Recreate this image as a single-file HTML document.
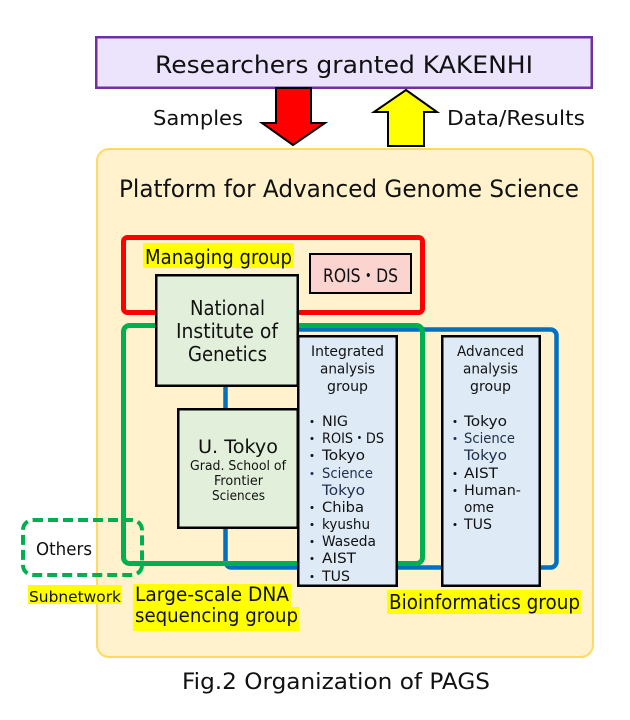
<!DOCTYPE html>
<html><head><meta charset="utf-8"><style>
html,body{margin:0;padding:0;background:#fff;}
svg{display:block;}
text{font-family:"DejaVu Sans","Liberation Sans",sans-serif;fill:#111;}
</style></head><body>
<svg width="630" height="720" viewBox="0 0 630 720" xmlns="http://www.w3.org/2000/svg">
<!-- top box -->
<rect x="96.25" y="37.25" width="495.5" height="50.5" fill="#ece3fc" stroke="#7030a0" stroke-width="2.5"/>
<text x="155" y="73" font-size="24" textLength="378" lengthAdjust="spacingAndGlyphs">Researchers granted KAKENHI</text>
<!-- platform -->
<rect x="97" y="149" width="496" height="508" rx="12" fill="#fff2cc" stroke="#ffd966" stroke-width="2"/>
<!-- arrows -->
<polygon points="276,88 311,88 311,123 325,123 293,145 262,123 276,123" fill="#ff0000" stroke="#000" stroke-width="2" stroke-linejoin="miter"/>
<polygon points="406,90 437,112 424,112 424,146 388,146 388,112 374,112" fill="#ffff00" stroke="#000" stroke-width="2"/>
<text x="153" y="125" font-size="20" textLength="90" lengthAdjust="spacingAndGlyphs">Samples</text>
<text x="447" y="125" font-size="20" textLength="138" lengthAdjust="spacingAndGlyphs">Data/Results</text>
<text x="119" y="197" font-size="24" textLength="460" lengthAdjust="spacingAndGlyphs">Platform for Advanced Genome Science</text>
<!-- group frames -->
<rect x="123.5" y="237.5" width="299" height="75" rx="4" fill="none" stroke="#ff0000" stroke-width="5"/>
<rect x="225.5" y="329.5" width="331" height="238" rx="6" fill="none" stroke="#0070c0" stroke-width="4.5"/>
<rect x="123.5" y="325.5" width="299" height="238" rx="6" fill="none" stroke="#00b050" stroke-width="5"/>
<!-- managing label -->
<rect x="143" y="243" width="151" height="25" fill="#ffff00"/>
<text x="145" y="264" font-size="20" textLength="147" lengthAdjust="spacingAndGlyphs">Managing group</text>
<!-- ROIS DS -->
<rect x="310" y="254" width="101" height="39" fill="#fbd3cf" stroke="#000" stroke-width="2"/>
<text x="323" y="282" font-size="19" textLength="75" lengthAdjust="spacingAndGlyphs">ROIS・DS</text>
<!-- NIG -->
<rect x="156.25" y="275.25" width="141.5" height="110.5" fill="#e2efda" stroke="#000" stroke-width="2.5"/>
<text x="190" y="315" font-size="20.5" textLength="75" lengthAdjust="spacingAndGlyphs">National</text>
<text x="176" y="338" font-size="20.5" textLength="102" lengthAdjust="spacingAndGlyphs">Institute of</text>
<text x="188" y="361" font-size="20.5" textLength="79" lengthAdjust="spacingAndGlyphs">Genetics</text>
<!-- U Tokyo -->
<rect x="178.25" y="409.25" width="119.5" height="118.5" fill="#e2efda" stroke="#000" stroke-width="2.5"/>
<text x="198" y="453" font-size="18.5" textLength="80" lengthAdjust="spacingAndGlyphs">U. Tokyo</text>
<text x="190" y="470" font-size="13" textLength="96" lengthAdjust="spacingAndGlyphs">Grad. School of</text>
<text x="214" y="485" font-size="13" textLength="49" lengthAdjust="spacingAndGlyphs">Frontier</text>
<text x="212" y="500" font-size="13" textLength="53" lengthAdjust="spacingAndGlyphs">Sciences</text>
<!-- Integrated -->
<rect x="298.25" y="336.25" width="98.5" height="249.5" fill="#deebf7" stroke="#000" stroke-width="2.5"/>
<g font-size="14.5">
<text x="311" y="356" textLength="73" lengthAdjust="spacingAndGlyphs">Integrated</text>
<text x="320" y="373.5" textLength="55" lengthAdjust="spacingAndGlyphs">analysis</text>
<text x="327" y="391" textLength="41" lengthAdjust="spacingAndGlyphs">group</text>
</g>
<g font-size="14.5">
<circle cx="312" cy="421.5" r="1.5" fill="#111"/><text x="322" y="426" textLength="26" lengthAdjust="spacingAndGlyphs">NIG</text>
<circle cx="312" cy="438.5" r="1.5" fill="#111"/><text x="322" y="443" textLength="62" lengthAdjust="spacingAndGlyphs">ROIS・DS</text>
<circle cx="312" cy="455.5" r="1.5" fill="#111"/><text x="322" y="460" textLength="43" lengthAdjust="spacingAndGlyphs">Tokyo</text>
<circle cx="312" cy="473.5" r="1.5" fill="#203050"/><text x="322" y="478" textLength="51" lengthAdjust="spacingAndGlyphs" style="fill:#203050">Science</text>
<text x="322" y="495" textLength="43" lengthAdjust="spacingAndGlyphs" style="fill:#203050">Tokyo</text>
<circle cx="312" cy="507.5" r="1.5" fill="#111"/><text x="322" y="512" textLength="42" lengthAdjust="spacingAndGlyphs">Chiba</text>
<circle cx="312" cy="524.5" r="1.5" fill="#111"/><text x="322" y="529" textLength="48" lengthAdjust="spacingAndGlyphs">kyushu</text>
<circle cx="312" cy="541.5" r="1.5" fill="#111"/><text x="322" y="546" textLength="54" lengthAdjust="spacingAndGlyphs">Waseda</text>
<circle cx="312" cy="558.5" r="1.5" fill="#111"/><text x="322" y="563" textLength="34" lengthAdjust="spacingAndGlyphs">AIST</text>
<circle cx="312" cy="576.5" r="1.5" fill="#111"/><text x="322" y="581" textLength="28" lengthAdjust="spacingAndGlyphs">TUS</text>
</g>
<!-- Advanced -->
<rect x="442.25" y="336.25" width="97.5" height="249.5" fill="#deebf7" stroke="#000" stroke-width="2.5"/>
<g font-size="14.5">
<text x="457" y="356" textLength="67" lengthAdjust="spacingAndGlyphs">Advanced</text>
<text x="463" y="373.5" textLength="55" lengthAdjust="spacingAndGlyphs">analysis</text>
<text x="470" y="391" textLength="41" lengthAdjust="spacingAndGlyphs">group</text>
<circle cx="455" cy="421.5" r="1.5" fill="#111"/><text x="464" y="426" textLength="43" lengthAdjust="spacingAndGlyphs">Tokyo</text>
<circle cx="455" cy="438.5" r="1.5" fill="#203050"/><text x="464" y="443" textLength="51" lengthAdjust="spacingAndGlyphs" style="fill:#203050">Science</text>
<text x="464" y="460" textLength="43" lengthAdjust="spacingAndGlyphs" style="fill:#203050">Tokyo</text>
<circle cx="455" cy="473.5" r="1.5" fill="#111"/><text x="464" y="478" textLength="34" lengthAdjust="spacingAndGlyphs">AIST</text>
<circle cx="455" cy="490.5" r="1.5" fill="#111"/><text x="464" y="495" textLength="57" lengthAdjust="spacingAndGlyphs">Human-</text>
<text x="464" y="512" textLength="30" lengthAdjust="spacingAndGlyphs">ome</text>
<circle cx="455" cy="524.5" r="1.5" fill="#111"/><text x="464" y="529" textLength="28" lengthAdjust="spacingAndGlyphs">TUS</text>
</g>
<!-- Others -->
<rect x="23" y="520" width="119" height="55" rx="10" fill="none" stroke="#00b050" stroke-width="4" stroke-dasharray="10,5"/>
<text x="36" y="555" font-size="17.5" textLength="56" lengthAdjust="spacingAndGlyphs">Others</text>
<rect x="28" y="585" width="94" height="19" fill="#ffff00"/>
<text x="29" y="602" font-size="15.5" textLength="92" lengthAdjust="spacingAndGlyphs">Subnetwork</text>
<!-- Large-scale label -->
<rect x="133" y="584" width="158" height="24" fill="#ffff00"/>
<rect x="133" y="607" width="166" height="24" fill="#ffff00"/>
<text x="135" y="601" font-size="19.5" textLength="154" lengthAdjust="spacingAndGlyphs">Large-scale DNA</text>
<text x="135" y="622" font-size="19.5" textLength="163" lengthAdjust="spacingAndGlyphs">sequencing group</text>
<!-- Bioinformatics -->
<rect x="387" y="590" width="194" height="24" fill="#ffff00"/>
<text x="389" y="609" font-size="20" textLength="191" lengthAdjust="spacingAndGlyphs">Bioinformatics group</text>
<!-- caption -->
<text x="182" y="689" font-size="22" textLength="308" lengthAdjust="spacingAndGlyphs">Fig.2 Organization of PAGS</text>
</svg>
</body></html>
